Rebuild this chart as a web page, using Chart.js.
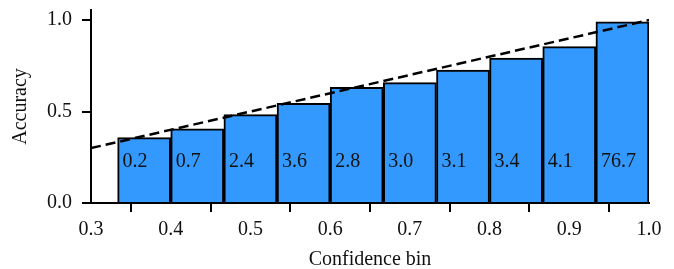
<!DOCTYPE html>
<html>
<head>
<meta charset="utf-8">
<script src="https://cdn.jsdelivr.net/npm/chart.js@4"></script>
<style>
  html, body { margin: 0; padding: 0; background: #fff; }
  #wrap { width: 674px; height: 269px; }
</style>
</head>
<body>
<div id="wrap"><canvas id="myChart"></canvas></div>
<script>
// bin centres (10 bins from 1/3 to 1)
var binCenters = [0.3667, 0.4333, 0.5, 0.5667, 0.6333, 0.7, 0.7667, 0.8333, 0.9, 0.9667];
var accuracy = [0.357, 0.406, 0.483, 0.545, 0.632, 0.658, 0.727, 0.792, 0.855, 0.99];
// share of samples per bin (%)
var binShare = ["0.2", "0.7", "2.4", "3.6", "2.8", "3.0", "3.1", "3.4", "4.1", "76.7"];
var diagonal = [0.3, 1.0];
var xTicks = [0.3, 0.4, 0.5, 0.6, 0.7, 0.8, 0.9, 1.0];
var yTicks = [0.0, 0.5, 1.0];

var fam = "'Liberation Serif', 'DejaVu Serif', serif";
var fsize = 20;

// writes the share of each bin inside its bar
var shareLabels = {
  id: "shareLabels",
  afterDatasetsDraw: function (chart) {
    var ctx = chart.ctx;
    var meta = chart.getDatasetMeta(0);
    var y = chart.scales.y.getPixelForValue(0.225);
    ctx.save();
    ctx.fillStyle = "#111";
    ctx.font = fsize + "px " + fam;
    ctx.textAlign = "left";
    ctx.textBaseline = "middle";
    meta.data.forEach(function (bar, i) {
      var left = bar.x - bar.width / 2;
      ctx.fillText(binShare[i], left + 5, y);
    });
    ctx.restore();
  }
};

var ctx = document.getElementById("myChart");
new Chart(ctx, {
  type: "bar",
  data: {
    datasets: [
      {
        type: "bar",
        data: binCenters.map((x, i) => ({ x: x, y: accuracy[i] })),
        backgroundColor: "#3399ff",
        borderColor: "#000",
        borderWidth: 2,
        borderSkipped: "bottom",
        barPercentage: 1.0,
        categoryPercentage: 1.0,
        order: 2,
      },
      {
        type: "line",
        data: diagonal.map((v) => ({ x: v, y: v })),
        borderColor: "#000",
        borderWidth: 2.5,
        borderDash: [10, 5],
        pointRadius: 0,
        fill: false,
        order: 1,
      },
    ],
  },
  options: {
    responsive: true,
    maintainAspectRatio: false,
    animation: false,
    layout: { padding: { top: 10, right: 25, left: 0, bottom: 0 } },
    plugins: {
      legend: { display: false },
      tooltip: { enabled: false },
    },
    scales: {
      x: {
        type: "linear",
        offset: false,
        min: 0.3,
        max: 1.0,
        afterBuildTicks: (s) => { s.ticks = xTicks.map((v) => ({ value: v })); },
        afterFit: (s) => { s.height = 66; },
        grid: { drawOnChartArea: false, drawTicks: true, tickLength: 9, color: "#000", lineWidth: 2 },
        border: { display: true, color: "#000", width: 2 },
        ticks: {
          color: "#111",
          font: { family: fam, size: fsize },
          padding: 6,
          maxRotation: 0,
          callback: (v) => v.toFixed(1),
        },
        title: { display: true, text: "Confidence bin", color: "#111", font: { family: fam, size: 20 }, padding: { top: 0, bottom: -3 } },
      },
      y: {
        min: 0,
        max: 1.055,
        afterBuildTicks: (s) => { s.ticks = yTicks.map((v) => ({ value: v })); },
        afterFit: (s) => { s.width = 91; s.paddingTop = 0; s.paddingBottom = 0; },
        grid: { drawOnChartArea: false, drawTicks: true, tickLength: 9, color: "#000", lineWidth: 2 },
        border: { display: true, color: "#000", width: 2 },
        ticks: {
          color: "#111",
          font: { family: fam, size: fsize },
          padding: 10,
          callback: (v) => v.toFixed(1),
        },
        title: { display: true, text: "Accuracy", color: "#111", font: { family: fam, size: 20 }, padding: { top: 9, bottom: 4 } },
      },
    },
  },
  plugins: [shareLabels],
});
</script>
</body>
</html>
